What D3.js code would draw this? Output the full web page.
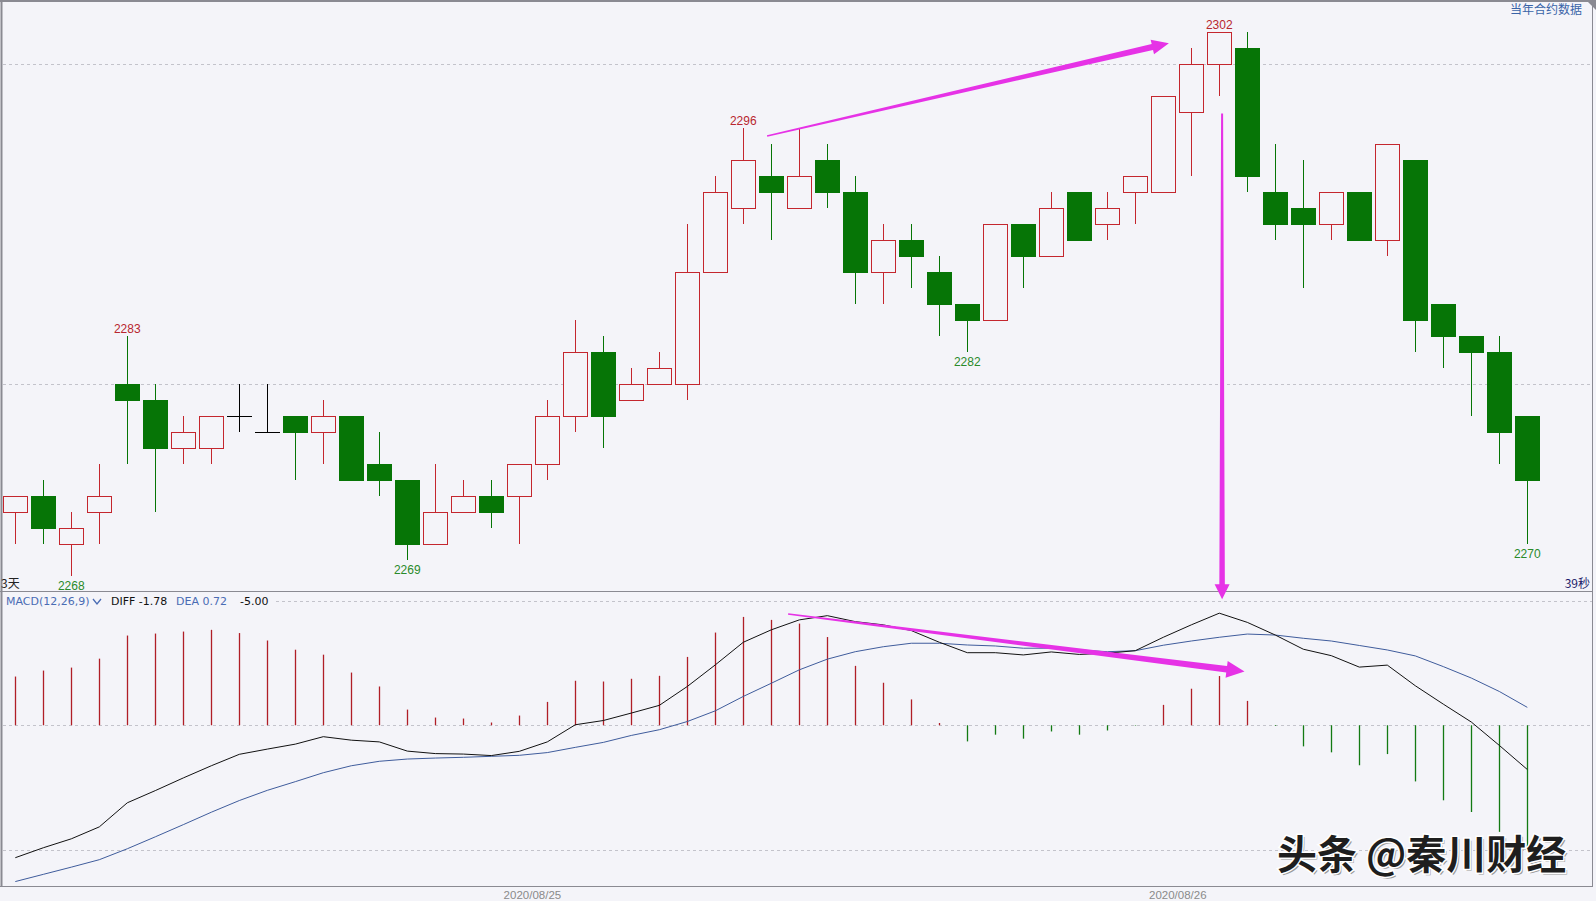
<!DOCTYPE html>
<html><head><meta charset="utf-8">
<script src="https://cdn.jsdelivr.net/npm/d3@7/dist/d3.min.js"></script>
<style>
html,body{margin:0;padding:0;background:#f4f4f9;overflow:hidden}
svg{display:block}
</style></head><body>
<svg id="c" width="1596" height="901"></svg>
<script>
// ---------- DATA ----------
const opens  = [2272,2273,2270,2272,2280,2279,2276,2276,2278,2277,2278,2277,2278,2275,2274,2270,2272,2273,2273,2275,
                2278,2282,2279,2280,2280,2287,2291,2293,2291,2294,2292,2287,2289,2287,2285,2284,2290,2288,2292,
                2290,2292,2292,2297,2300,2301,2292,2291,2290,2292,2289,2294,2285,2283,2282,2278];
const highs  = [2273,2274,2272,2275,2283,2280,2278,2278,2280,2280,2278,2279,2278,2277,2274,2275,2274,2274,2275,2279,
                2284,2283,2281,2282,2290,2293,2296,2295,2296,2295,2293,2290,2290,2288,2285,2290,2290,2292,2292,
                2292,2293,2298,2301,2302,2302,2295,2294,2292,2292,2295,2294,2285,2283,2283,2278];
const lows   = [2270,2270,2268,2270,2275,2272,2275,2275,2277,2277,2274,2275,2274,2273,2269,2270,2272,2271,2270,2274,
                2277,2276,2279,2280,2279,2287,2290,2289,2291,2291,2285,2285,2286,2283,2282,2284,2286,2288,2289,
                2289,2290,2292,2293,2298,2292,2289,2286,2289,2289,2288,2282,2281,2278,2275,2270];
const closes = [2273,2271,2271,2273,2279,2276,2277,2278,2278,2277,2277,2278,2274,2274,2270,2272,2273,2272,2275,2278,
                2282,2278,2280,2281,2287,2292,2294,2292,2293,2292,2287,2289,2288,2285,2284,2290,2288,2291,2289,
                2291,2293,2298,2300,2302,2293,2290,2290,2292,2289,2295,2284,2283,2282,2277,2274];

const macdHist = [1.96,2.20,2.32,2.68,3.61,3.69,3.77,3.84,3.71,3.41,3.04,2.84,2.12,1.56,0.63,0.31,0.27,0.11,0.39,0.94,
                  1.79,1.76,1.87,1.99,2.75,3.73,4.36,4.24,4.09,3.55,2.39,1.71,1.04,0.09,-0.65,-0.38,-0.54,-0.25,-0.38,
                  -0.21,-0.02,0.82,1.47,1.98,0.98,-0.03,-0.85,-1.09,-1.61,-1.16,-2.26,-3.02,-3.49,-4.29,-5.00];
const diffLine = [-5.33,-4.93,-4.57,-4.09,-3.12,-2.63,-2.12,-1.63,-1.17,-0.96,-0.76,-0.46,-0.60,-0.67,-1.04,-1.14,-1.16,-1.22,-1.05,-0.67,
                  0.02,0.19,0.49,0.80,1.56,2.43,3.34,3.84,4.24,4.41,4.17,4.04,3.81,3.34,2.92,2.92,2.83,2.95,2.85,
                  2.90,3.00,3.54,4.04,4.51,4.14,3.63,3.06,2.80,2.34,2.42,1.59,0.85,0.13,-0.81,-1.78];
const deaLine  = [-6.29,-6.00,-5.71,-5.41,-4.97,-4.49,-4.00,-3.50,-3.03,-2.62,-2.27,-1.91,-1.63,-1.45,-1.36,-1.32,-1.29,-1.25,-1.21,-1.10,
                  -0.89,-0.69,-0.41,-0.18,0.15,0.58,1.16,1.69,2.23,2.66,2.96,3.16,3.30,3.30,3.23,3.19,3.10,3.10,3.03,
                  2.96,3.00,3.22,3.39,3.54,3.67,3.63,3.50,3.39,3.21,3.03,2.79,2.36,1.90,1.36,0.72];

const priceGrid = [2300, 2280];
const macdGrid  = [5, 0, -5];
const highLabelIdx = [4, 26, 43];
const lowLabelIdx  = [2, 14, 34, 54];
const dateLabels = ["2020/08/25", "2020/08/26"];
const datePos    = [18.45, 41.5];
const macdHeader = ["MACD(12,26,9)", "DIFF -1.78", "DEA 0.72", "-5.00"];
// annotation arrows in data units: [index, value] pairs
const arrowPrice = [[26.85, 2295.5], [41.2, 2301.3]];
const arrowDown  = [[43.1, 2296.9], [43.1, 5.07]];
const arrowMacd  = [[27.6, 4.48], [43.9, 2.16]];

// ---------- LAYOUT ----------
const BG = "#f4f4f9", RED = "#c4262e", GREEN = "#067506", GRID = "#c3c3cb";
const svg = d3.select("#c");
const n = opens.length;
const x = d3.scaleLinear().domain([0, n - 1]).range([15.3, 1527.3]);
const yP = d3.scaleLinear().domain([2280, 2300]).range([384, 64]);
const yM = d3.scaleLinear().domain([-5, 5]).range([849.5, 601]);
const cx = i => Math.round(x(i)) + 0.5;

svg.append("rect").attr("width", 1596).attr("height", 901).attr("fill", BG);

// grid
svg.selectAll(".pg").data(priceGrid).join("line")
  .attr("x1", 3).attr("x2", 1592).attr("y1", d => Math.round(yP(d)) + 0.5).attr("y2", d => Math.round(yP(d)) + 0.5)
  .attr("stroke", GRID).attr("stroke-dasharray", "3,3");
svg.selectAll(".mg").data(macdGrid).join("line")
  .attr("x1", d => d === 5 ? 276 : 3).attr("x2", 1592)
  .attr("y1", d => Math.round(yM(d)) + 0.5).attr("y2", d => Math.round(yM(d)) + 0.5)
  .attr("stroke", GRID).attr("stroke-dasharray", "3,3");

// frame
const frame = svg.append("g").attr("stroke", "#8a8a92").attr("fill", "none");
frame.append("line").attr("x1", 0).attr("x2", 1596).attr("y1", 1).attr("y2", 1).attr("stroke-width", 2);
frame.append("line").attr("x1", 1.5).attr("x2", 1.5).attr("y1", 0).attr("y2", 887).attr("stroke-width", 2);
frame.append("line").attr("x1", 1592.5).attr("x2", 1592.5).attr("y1", 0).attr("y2", 887);
frame.append("line").attr("x1", 0).attr("x2", 1593).attr("y1", 591.5).attr("y2", 591.5);
frame.append("line").attr("x1", 0).attr("x2", 1593).attr("y1", 886.5).attr("y2", 886.5);
svg.append("path").attr("d", "M1586,0 L1596,0 L1596,10 Z").attr("fill", "#8a8a92");

// candles
const idx = d3.range(n);
const kind = i => closes[i] > opens[i] ? "up" : (closes[i] < opens[i] ? "down" : "doji");
const colorOf = i => kind(i) === "up" ? RED : (kind(i) === "down" ? GREEN : "#000");
const cg = svg.append("g");
cg.selectAll(".wick").data(idx).join("line")
  .attr("x1", cx).attr("x2", cx)
  .attr("y1", i => yP(highs[i])).attr("y2", i => yP(lows[i]))
  .attr("stroke", colorOf).attr("stroke-width", 1);
cg.selectAll(".body").data(idx.filter(i => kind(i) !== "doji")).join("rect")
  .attr("x", i => kind(i) === "up" ? Math.round(x(i)) - 12 + 0.5 : Math.round(x(i)) - 12)
  .attr("width", i => kind(i) === "up" ? 24 : 25)
  .attr("y", i => kind(i) === "up" ? yP(closes[i]) + 0.5 : yP(opens[i]))
  .attr("height", i => Math.abs(yP(opens[i]) - yP(closes[i])) + (kind(i) === "up" ? 0 : 1))
  .attr("fill", i => kind(i) === "up" ? BG : GREEN)
  .attr("stroke", i => kind(i) === "up" ? RED : "none");
cg.selectAll(".doji").data(idx.filter(i => kind(i) === "doji")).join("line")
  .attr("x1", i => Math.round(x(i)) - 12).attr("x2", i => Math.round(x(i)) + 13)
  .attr("y1", i => yP(opens[i]) + 0.5).attr("y2", i => yP(opens[i]) + 0.5)
  .attr("stroke", "#000");

// extreme labels
const lblFont = "'Liberation Sans', Arial, sans-serif";
svg.selectAll(".hl").data(highLabelIdx).join("text")
  .attr("x", i => x(i)).attr("y", i => yP(highs[i]) - 3)
  .attr("text-anchor", "middle").attr("font-family", lblFont).attr("font-size", 12)
  .attr("fill", "#b8262e").text(i => highs[i]);
svg.selectAll(".ll").data(lowLabelIdx).join("text")
  .attr("x", i => x(i)).attr("y", i => yP(lows[i]) + 13.5)
  .attr("text-anchor", "middle").attr("font-family", lblFont).attr("font-size", 12)
  .attr("fill", "#2a8a2a").text(i => lows[i]);

// MACD histogram
svg.selectAll(".mh").data(idx).join("line")
  .attr("x1", cx).attr("x2", cx)
  .attr("y1", yM(0)).attr("y2", i => yM(macdHist[i]))
  .attr("stroke", i => macdHist[i] >= 0 ? "#b01e26" : "#137a13").attr("stroke-width", 1.3);

// DIFF / DEA
const line = arr => d3.line().x((d, i) => x(i)).y(d => yM(d))(arr);
svg.append("path").attr("d", line(deaLine)).attr("fill", "none").attr("stroke", "#3f5c9c").attr("stroke-width", 1);
svg.append("path").attr("d", line(diffLine)).attr("fill", "none").attr("stroke", "#111").attr("stroke-width", 1);

// header texts
const hdr = svg.append("g").attr("font-family", "'DejaVu Sans', sans-serif").attr("font-size", 11);
const hdrX = [6, 111, 176, 240];
const hdrC = ["#4a6cb4", "#111", "#4a6cb4", "#111"];
hdr.selectAll("text").data(macdHeader).join("text")
  .attr("x", (d, i) => hdrX[i]).attr("y", 605).attr("fill", (d, i) => hdrC[i]).text(d => d);
svg.append("path").attr("d", "M93,599 L97,604 L101,599").attr("fill", "none").attr("stroke", "#4a6cb4").attr("stroke-width", 1.3);

svg.append("text").attr("x", 1582).attr("y", 14).attr("text-anchor", "end")
  .attr("font-family", "'Noto Sans CJK SC', sans-serif").attr("font-size", 12).attr("fill", "#3a64a8").text("当年合约数据");
svg.append("text").attr("x", 1).attr("y", 588)
  .attr("font-family", "'Noto Sans CJK SC', sans-serif").attr("font-size", 12).attr("fill", "#222").text("3天");
svg.append("text").attr("x", 1590).attr("y", 588).attr("text-anchor", "end")
  .attr("font-family", "'Noto Sans CJK SC', sans-serif").attr("font-size", 12).attr("fill", "#1c1c6a").text("39秒");

// date axis
const ax = svg.append("g").attr("transform", "translate(0,898.5)")
  .call(d3.axisBottom(x).tickValues(datePos).tickFormat((d, i) => dateLabels[i]).tickSize(0));
ax.select(".domain").remove();
ax.selectAll("text").attr("font-family", lblFont).attr("font-size", 11.5).attr("fill", "#8a8a8a").attr("y", 0).attr("dy", 0);

// annotation arrows
function arrow(x0, y0, x1, y1, w0, w1, hl, hw) {
  const dx = x1 - x0, dy = y1 - y0, L = Math.hypot(dx, dy);
  const ux = dx / L, uy = dy / L, nx = -uy, ny = ux;
  const bx = x1 - ux * hl, by = y1 - uy * hl;
  const p = [[x0 + nx * w0 / 2, y0 + ny * w0 / 2], [bx + nx * w1 / 2, by + ny * w1 / 2], [bx + nx * hw / 2, by + ny * hw / 2],
             [x1, y1], [bx - nx * hw / 2, by - ny * hw / 2], [bx - nx * w1 / 2, by - ny * w1 / 2], [x0 - nx * w0 / 2, y0 - ny * w0 / 2]];
  svg.append("path").attr("d", "M" + p.map(q => q.join(",")).join("L") + "Z").attr("fill", "#e632e6");
}
arrow(x(arrowPrice[0][0]), yP(arrowPrice[0][1]), x(arrowPrice[1][0]), yP(arrowPrice[1][1]), 1.5, 6, 17, 15);
arrow(x(arrowDown[0][0]), yP(arrowDown[0][1]), x(arrowDown[1][0]), yM(arrowDown[1][1]), 2, 5.5, 15, 15);
arrow(x(arrowMacd[0][0]), yM(arrowMacd[0][1]), x(arrowMacd[1][0]), yM(arrowMacd[1][1]), 1.5, 6.5, 18, 17);

// watermark
const wm = svg.append("g").attr("font-family", "'Noto Sans CJK SC', sans-serif").attr("font-size", 40).attr("font-weight", "bold");
wm.append("text").attr("x", 1279).attr("y", 871).attr("fill", "#9a9a9a").text("头条 @秦川财经");
wm.append("text").attr("x", 1277).attr("y", 869).attr("fill", "#1e1e1e").attr("stroke", "#ffffff")
  .attr("stroke-width", 3).attr("paint-order", "stroke").text("头条 @秦川财经");
</script>
</body></html>
